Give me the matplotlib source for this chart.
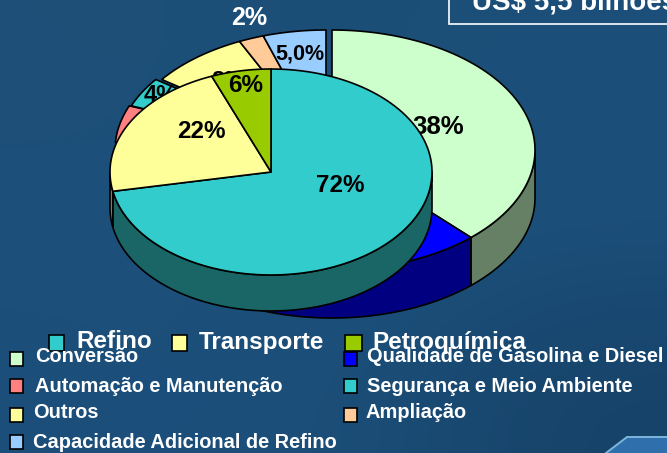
import numpy as np
import matplotlib
matplotlib.use("Agg")
import matplotlib.pyplot as plt
from matplotlib.patches import Rectangle

plt.rcParams['font.family'] = ['Liberation Sans', 'DejaVu Sans']

# ---- data
back_names = ["Conversão", "Qualidade de Gasolina e Diesel", "Automação e Manutenção",
              "Segurança e Meio Ambiente", "Outros", "Ampliação",
              "Capacidade Adicional de Refino"]
back_values = [38, 38, 5, 4, 8, 2, 5]
back_labels = ["38%", "", "", "4%", "8%", "2%", "5,0%"]
back_colors = ["#CCFFCC", "#0000FF", "#FF8080", "#33CCCC", "#FFFF99", "#FFCC99", "#99CCFF"]
back_sides = ["#668066", "#000080", "#804040", "#1A6666", "#80804D", "#80664D", "#4D6680"]
back_centers_x = [332, 332, 318, 320, 326, 326, 326]

front_names = ["Refino", "Transporte", "Petroquímica"]
front_values = [72, 22, 6]
front_labels = ["72%", "22%", "6%"]
front_colors = ["#33CCCC", "#FFFF99", "#99CC00"]
front_sides = ["#1A6666", "#80804D", "#4D6600"]

title_text = "US$ 5,5 bilhões"

# ---- figure in pixel coordinates
fig = plt.figure(figsize=(6.67, 4.53), dpi=100)
ax = fig.add_axes([0, 0, 1, 1])
ax.set_xlim(0, 667)
ax.set_ylim(453, 0)
ax.axis("off")

# background
bg = np.array([[[30, 80, 120], [27, 78, 118], [28, 80, 122]],
               [[28, 80, 122], [28, 82, 126], [28, 80, 124]],
               [[28, 78, 122], [28, 80, 122], [22, 66, 104]]], dtype=float) / 255
ax.imshow(bg, extent=(0, 667, 453, 0), interpolation="bicubic", aspect="auto", zorder=0)
ax.set_xlim(0, 667)
ax.set_ylim(453, 0)
ax.fill([606, 627, 680, 680, 606], [453, 437, 437, 460, 460],
        facecolor="#2F70AC", edgecolor="#7DB6DC", lw=1.4, zorder=1)

EDGE = dict(edgecolor="black", linewidth=1.2, joinstyle="round")


def pie3d(values, colors, sides, centers_x, cy, rx, ry, depth, z):
    total = float(sum(values))
    a0 = 0.0
    spans = []
    for v in values:
        spans.append((a0, a0 + v / total * 360))
        a0 += v / total * 360
    # sides (front half only)
    for (a, b), s, cx in zip(spans, sides, centers_x):
        lo, hi = max(a, 90), min(b, 270)
        if hi > lo:
            t = np.radians(np.linspace(lo, hi, 80))
            x = cx + rx * np.sin(t)
            y = cy - ry * np.cos(t)
            ax.fill(np.r_[x, x[::-1]], np.r_[y, y[::-1] + depth], facecolor=s, zorder=z, **EDGE)
    # tops
    for (a, b), c, cx in zip(spans, colors, centers_x):
        t = np.radians(np.linspace(a, b, 120))
        x = np.r_[cx, cx + rx * np.sin(t)]
        y = np.r_[cy, cy - ry * np.cos(t)]
        ax.fill(x, y, facecolor=c, zorder=z + 1, **EDGE)


# back pie
pie3d(back_values, back_colors, back_sides, back_centers_x, 150, 203, 120, 48, 2)
label_pos_back = {"38%": (438, 127, 18.5, "black"), "4%": (161, 95, 17, "black"),
                  "8%": (228, 81, 17, "black"), "2%": (249, 18, 18, "white"),
                  "5,0%": (300, 54, 15.5, "black")}
for lab in back_labels:
    if lab:
        x, y, fs, col = label_pos_back[lab]
        ax.text(x, y, lab, ha="center", va="center", fontsize=fs, fontweight="bold",
                color=col, zorder=4)

# front pie
pie3d(front_values, front_colors, front_sides, [271] * 3, 172, 161, 103, 36, 5)
label_pos_front = [(340, 185), (201, 132), (246, 86)]
for lab, (x, y) in zip(front_labels, label_pos_front):
    ax.text(x, y, lab, ha="center", va="center", fontsize=17.5, fontweight="bold",
            color="black", zorder=8)

# title box
ax.add_patch(Rectangle((448.5, -10), 240, 34, facecolor="none", edgecolor="white", lw=1.2, zorder=9))
ax.text(472, 9, title_text, ha="left", va="baseline", fontsize=20, fontweight="bold",
        color="white", zorder=9, clip_on=True)

# legend: categories
for name, c, sx, sw, tx in zip(front_names, front_colors, [49, 172, 345], [15, 15, 17], [76, 199, 372]):
    ax.add_patch(Rectangle((sx, 335), sw, 16, facecolor=c, edgecolor="black", lw=1.2, zorder=9))
    ax.text(tx, 342, name, ha="left", va="center", fontsize=17.5, fontweight="bold",
            color="white", zorder=9)

# legend: back pie items
sw_x = [10, 344, 10, 344, 10, 344, 10]
sw_y = [352, 352, 379, 379, 408, 408, 435]
tx_x = [35, 367, 35, 367, 33, 365, 33]
tx_y = [357, 357, 386, 386, 413, 413, 442]
for name, c, sx, sy, tx, ty in zip(back_names, back_colors, sw_x, sw_y, tx_x, tx_y):
    ax.add_patch(Rectangle((sx, sy), 13, 14, facecolor=c, edgecolor="black", lw=1.2, zorder=10))
    ax.text(tx, ty, name, ha="left", va="center", fontsize=14.4, fontweight="bold",
            color="white", zorder=10)

fig.savefig("out.png", dpi=100)
